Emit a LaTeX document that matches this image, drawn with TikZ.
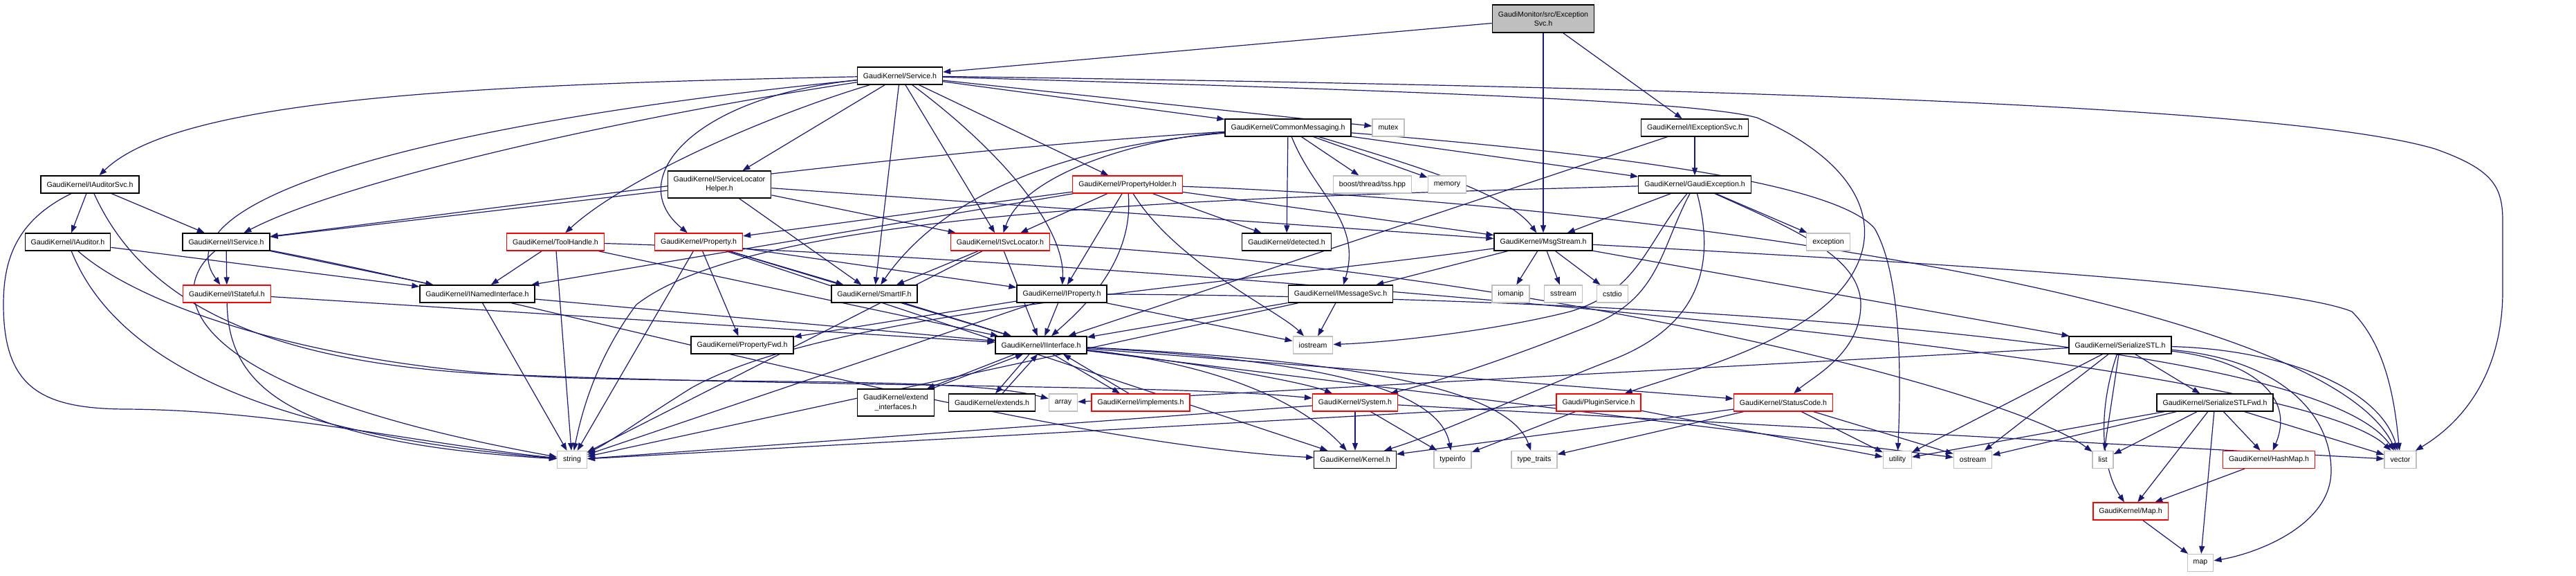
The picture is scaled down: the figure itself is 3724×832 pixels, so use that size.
\documentclass[tikz,border=0pt]{standalone}
\usepackage{fontspec}
\setmainfont{Liberation Sans}
\usetikzlibrary{arrows.meta,backgrounds}
\definecolor{edgec}{HTML}{191970}
\definecolor{grayb}{HTML}{BFBFBF}
\definecolor{redb}{HTML}{FF0000}
\tikzset{
 box/.style={draw=black, line width=1.3pt, rectangle, inner xsep=8.5pt, inner ysep=0pt, minimum height=25pt, font=\fontsize{10.6pt}{13.5pt}\selectfont, align=center, fill=white},
 rbox/.style={box, draw=redb},
 gbox/.style={box, draw=grayb},
 root/.style={box, fill=grayb},
 e/.style={draw=edgec, line width=1.2pt, line join=round, -{Triangle[length=11pt,width=8pt]}},
}
\begin{document}
\begin{tikzpicture}[x=1pt,y=-1pt]
\useasboundingbox (0,0) rectangle (3724,832);
% nodes
\node[root, minimum height=40pt] (exsvc) at (2231,27) {GaudiMonitor/src/Exception\\Svc.h};
\node[box] (service) at (1301,109.5) {GaudiKernel/Service.h};
\node[box] (commsg) at (1862,184.5) {GaudiKernel/CommonMessaging.h};
\node[gbox] (mutex) at (2007,184.5) {mutex};
\node[box] (iexsvc) at (2450,184.5) {GaudiKernel/IExceptionSvc.h};
\node[box] (iaudsvc) at (130,266.5) {GaudiKernel/IAuditorSvc.h};
\node[box, minimum height=39pt] (slh) at (1040,266.5) {GaudiKernel/ServiceLocator\\Helper.h};
\node[rbox] (propholder) at (1630,266.5) {GaudiKernel/PropertyHolder.h};
\node[gbox] (tss) at (1984,266.5) {boost/thread/tss.hpp};
\node[gbox] (memory) at (2092,266.5) {memory};
\node[box] (gexc) at (2450,266.5) {GaudiKernel/GaudiException.h};
\node[box] (iaud) at (98,349.5) {GaudiKernel/IAuditor.h};
\node[box] (iservice) at (327,349.5) {GaudiKernel/IService.h};
\node[rbox] (toolhandle) at (803,349.5) {GaudiKernel/ToolHandle.h};
\node[rbox] (property) at (1010,349.5) {GaudiKernel/Property.h};
\node[rbox] (isvcloc) at (1446,349.5) {GaudiKernel/ISvcLocator.h};
\node[box] (detected) at (1860,349.5) {GaudiKernel/detected.h};
\node[box] (msgstream) at (2231,349.5) {GaudiKernel/MsgStream.h};
\node[gbox] (exception) at (2643,349.5) {exception};
\node[rbox] (istateful) at (328,424.5) {GaudiKernel/IStateful.h};
\node[box] (inamed) at (690,424.5) {GaudiKernel/INamedInterface.h};
\node[box] (smartif) at (1264,424.5) {GaudiKernel/SmartIF.h};
\node[box] (iproperty) at (1535,424.5) {GaudiKernel/IProperty.h};
\node[box] (imsgsvc) at (1938,424.5) {GaudiKernel/IMessageSvc.h};
\node[gbox] (iomanip) at (2184,424.5) {iomanip};
\node[gbox] (sstream) at (2260,424.5) {sstream};
\node[gbox] (cstdio) at (2331,424.5) {cstdio};
\node[box] (propfwd) at (1073,498.5) {GaudiKernel/PropertyFwd.h};
\node[box] (iinterface) at (1505,498.5) {GaudiKernel/IInterface.h};
\node[gbox] (iostream) at (1898,498.5) {iostream};
\node[box] (sstl) at (3065,498.5) {GaudiKernel/SerializeSTL.h};
\node[box, minimum height=39pt] (extint) at (1295,581.5) {GaudiKernel/extend\\\_interfaces.h};
\node[box] (extends) at (1434,581.5) {GaudiKernel/extends.h};
\node[gbox] (array) at (1537,581.5) {array};
\node[rbox] (implements) at (1649,581.5) {GaudiKernel/implements.h};
\node[rbox] (system) at (1959,581.5) {GaudiKernel/System.h};
\node[rbox] (plugin) at (2311,581.5) {Gaudi/PluginService.h};
\node[rbox] (statuscode) at (2578,581.5) {GaudiKernel/StatusCode.h};
\node[box] (sstlfwd) at (3202,581.5) {GaudiKernel/SerializeSTLFwd.h};
\node[gbox] (string) at (827,664) {string};
\node[box] (kernel) at (1959,664) {GaudiKernel/Kernel.h};
\node[gbox] (typeinfo) at (2100,664) {typeinfo};
\node[gbox] (typetraits) at (2218,664) {type\_traits};
\node[gbox] (utility) at (2743,664) {utility};
\node[gbox] (ostream) at (2852,664) {ostream};
\node[gbox] (list) at (3040,664) {list};
\node[rbox] (hashmap) at (3280,664) {GaudiKernel/HashMap.h};
\node[gbox] (vector) at (3470,664) {vector};
\node[rbox] (mapH) at (3080,738.5) {GaudiKernel/Map.h};
\node[gbox] (map) at (3181,813) {map};
\begin{scope}[on background layer]
\fill[white] (0,0) rectangle (3724,832);
% exsvc
\draw[e] (exsvc) -- (service);
\draw[e] (exsvc) -- (iexsvc);
\draw[e] (exsvc) -- (msgstream);
% service
\draw[e] (service) .. controls (700,122) and (260,140) .. (iaudsvc);
\draw[e] (service) .. controls (600,180) and (230,290) .. (istateful);
\draw[e] (service) .. controls (900,170) and (500,260) .. (iservice);
\draw[e] (service) -- (slh);
\draw[e] (service) .. controls (1100,170) and (900,260) .. (toolhandle);
\draw[e] (service) .. controls (1000,140) and (900,260) .. (property);
\draw[e] (service) -- (smartif);
\draw[e] (service) -- (isvcloc);
\draw[e] (service) .. controls (1450,220) and (1540,330) .. (iproperty);
\draw[e] (service) -- (propholder);
\draw[e] (service) -- (commsg);
\draw[e] (service) -- (mutex);
\draw[e] (service) .. controls (2400,125) and (3300,150) .. (3520,215) .. controls (3605,245) and (3618,270) .. (3618,320) -- (3618,420) .. controls (3618,540) and (3560,610) .. (vector);
\draw[e] (service) .. controls (2000,130) and (2450,145) .. (2540,170) .. controls (2700,240) and (2730,340) .. (2660,420) .. controls (2590,500) and (2430,540) .. (plugin);
% commsg
\draw[e] (commsg) .. controls (1300,220) and (800,290) .. (iservice);
\draw[e] (commsg) .. controls (1500,215) and (1350,300) .. (smartif);
\draw[e] (commsg) .. controls (1650,200) and (1480,250) .. (isvcloc);
\draw[e] (commsg) -- (detected);
\draw[e] (commsg) .. controls (1900,280) and (1970,320) .. (imsgsvc);
\draw[e] (commsg) -- (tss);
\draw[e] (commsg) -- (memory);
\draw[e] (commsg) .. controls (2050,240) and (2180,280) .. (msgstream);
\draw[e] (commsg) -- (gexc);
\draw[e] (commsg) .. controls (2300,220) and (2650,260) .. (2710,330) .. controls (2750,400) and (2748,550) .. (utility);
% iexsvc
\draw[e] (iexsvc) -- (iinterface);
\draw[e] (iexsvc) -- (gexc);
% iaudsvc
\draw[e] (iaudsvc) -- (iaud);
\draw[e] (iaudsvc) -- (iservice);
\draw[e] (iaudsvc) .. controls (20,320) and (5,380) .. (5,440) .. controls (5,560) and (60,590) .. (180,591) .. controls (400,592) and (600,640) .. (string);
\draw[e] (iaudsvc) .. controls (200,420) and (350,520) .. (700,540) .. controls (1200,560) and (1700,555) .. (system);
% slh
\draw[e] (slh) -- (iservice);
\draw[e] (slh) -- (isvcloc);
\draw[e] (slh) -- (smartif);
\draw[e] (slh) -- (msgstream);
% propholder
\draw[e] (propholder) -- (inamed);
\draw[e] (propholder) -- (property);
\draw[e] (propholder) -- (isvcloc);
\draw[e] (propholder) -- (iproperty);
\draw[e] (propholder) -- (detected);
\draw[e] (propholder) .. controls (1640,380) and (1560,450) .. (iinterface);
\draw[e] (propholder) -- (msgstream);
\draw[e] (propholder) .. controls (1700,380) and (1850,450) .. (iostream);
\draw[e] (propholder) .. controls (2300,290) and (3350,420) .. (vector);
% gexc
\draw[e] (gexc) -- (msgstream);
\draw[e] (gexc) -- (exception);
\draw[e] (gexc) .. controls (2590,330) and (2690,370) .. (2690,440) .. controls (2690,510) and (2620,545) .. (statuscode);
\draw[e] (gexc) .. controls (2400,360) and (2400,430) .. (2300,470) .. controls (2200,510) and (2100,545) .. (system);
\draw[e] (gexc) .. controls (2480,380) and (2460,470) .. (2330,520) .. controls (2200,570) and (2100,620) .. (kernel);
\draw[e] (gexc) .. controls (2380,350) and (2370,420) .. (2270,450) .. controls (2150,480) and (2000,495) .. (iostream);
\draw[e] (gexc) .. controls (1800,285) and (1100,300) .. (920,440) .. controls (860,520) and (840,600) .. (string);
% msgstream
\draw[e] (msgstream) -- (iomanip);
\draw[e] (msgstream) -- (sstream);
\draw[e] (msgstream) -- (cstdio);
\draw[e] (msgstream) -- (imsgsvc);
\draw[e] (msgstream) .. controls (1700,420) and (1200,450) .. (1000,560) .. controls (920,610) and (880,640) .. (string);
\draw[e] (msgstream) -- (sstl);
\draw[e] (msgstream) .. controls (2800,380) and (3300,410) .. (3400,450) .. controls (3450,500) and (3462,580) .. (vector);
% iaud
\draw[e] (iaud) -- (inamed);
\draw[e] (iaud) .. controls (150,480) and (300,620) .. (string);
\draw[e] (iaud) .. controls (200,440) and (450,530) .. (800,545) .. controls (1100,555) and (1400,545) .. (array);
% iservice
\draw[e] (iservice) -- (istateful);
\draw[e] (iservice) -- (inamed);
\draw[e] (iservice) .. controls (240,420) and (250,560) .. (string);
\draw[e] (iservice) .. controls (800,440) and (1500,640) .. (kernel);
% toolhandle
\draw[e] (toolhandle) -- (inamed);
\draw[e] (toolhandle) -- (string);
\draw[e] (toolhandle) -- (iinterface);
\draw[e] (toolhandle) .. controls (1500,370) and (3300,500) .. (vector);
% property
\draw[e] (property) -- (string);
\draw[e] (property) -- (propfwd);
\draw[e] (property) -- (smartif);
\draw[e] (property) -- (iproperty);
\draw[e] (property) -- (iinterface);
\draw[e] (property) -- (kernel);
% isvcloc
\draw[e] (isvcloc) -- (smartif);
\draw[e] (isvcloc) -- (iinterface);
\draw[e] (isvcloc) -- (string);
\draw[e] (isvcloc) .. controls (2200,390) and (2900,560) .. (list);
% iproperty
\draw[e] (iproperty) -- (iinterface);
\draw[e] (iproperty) -- (propfwd);
\draw[e] (iproperty) -- (string);
\draw[e] (iproperty) -- (iostream);
\draw[e] (iproperty) .. controls (2400,430) and (3350,490) .. (vector);
% inamed, istateful, smartif, imsgsvc
\draw[e] (inamed) -- (iinterface);
\draw[e] (inamed) -- (string);
\draw[e] (istateful) -- (iinterface);
\draw[e] (istateful) .. controls (330,560) and (420,640) .. (string);
\draw[e] (smartif) -- (iinterface);
\draw[e] (imsgsvc) -- (iinterface);
\draw[e] (imsgsvc) -- (iostream);
\draw[e] (imsgsvc) -- (string);
% iinterface
\draw[e] (iinterface) .. controls (1800,530) and (1900,600) .. (kernel);
\draw[e] (iinterface) .. controls (1700,520) and (1880,550) .. (system);
\draw[e] (iinterface) -- (statuscode);
\draw[e] (iinterface) .. controls (1900,520) and (2080,560) .. (typeinfo);
\draw[e] (iinterface) .. controls (1950,520) and (2180,560) .. (typetraits);
\draw[e] (iinterface) -- (ostream);
\draw[e] ([xshift=-38pt]iinterface.south) -- ([xshift=45pt]extint.north);
\draw[e] ([xshift=52pt]extint.north) -- ([xshift=-26pt]iinterface.south);
\draw[e] ([xshift=-17pt]iinterface.south) -- ([xshift=5pt]extends.north);
\draw[e] ([xshift=15pt]extends.north) -- ([xshift=-5pt]iinterface.south);
\draw[e] ([xshift=17pt]iinterface.south) -- ([xshift=-30pt]implements.north);
\draw[e] ([xshift=-17pt]implements.north) -- ([xshift=32pt]iinterface.south);
% system
\draw[e] (system) -- (kernel);
\draw[e] (system) -- (typeinfo);
\draw[e] (system) -- (string);
\draw[e] (system) -- (vector);
% statuscode
\draw[e] (statuscode) -- (kernel);
\draw[e] (statuscode) -- (typetraits);
\draw[e] (statuscode) -- (ostream);
\draw[e] (statuscode) -- (utility);
% plugin
\draw[e] (plugin) -- (string);
\draw[e] (plugin) -- (typeinfo);
\draw[e] (plugin) -- (utility);
% sstl
\draw[e] (sstl) -- (array);
\draw[e] (sstl) -- (utility);
\draw[e] (sstl) -- (ostream);
\draw[e] (sstl) -- (list);
\draw[e] (sstl) .. controls (3030,600) and (3040,680) .. (mapH);
\draw[e] (sstl) -- (sstlfwd);
\draw[e] (sstl) .. controls (3300,505) and (3440,560) .. (vector);
\draw[e] (sstl) .. controls (3250,520) and (3320,570) .. (hashmap);
\draw[e] (sstl) .. controls (3300,520) and (3370,600) .. (3370,680) .. controls (3370,760) and (3260,800) .. (map);
% sstlfwd
\draw[e] (sstlfwd) -- (utility);
\draw[e] (sstlfwd) -- (ostream);
\draw[e] (sstlfwd) -- (list);
\draw[e] (sstlfwd) -- (mapH);
\draw[e] (sstlfwd) -- (hashmap);
\draw[e] (sstlfwd) -- (vector);
\draw[e] (sstlfwd) -- (map);
\draw[e] (hashmap) -- (mapH);
\draw[e] (mapH) -- (map);
\end{scope}
\end{tikzpicture}
\end{document}
